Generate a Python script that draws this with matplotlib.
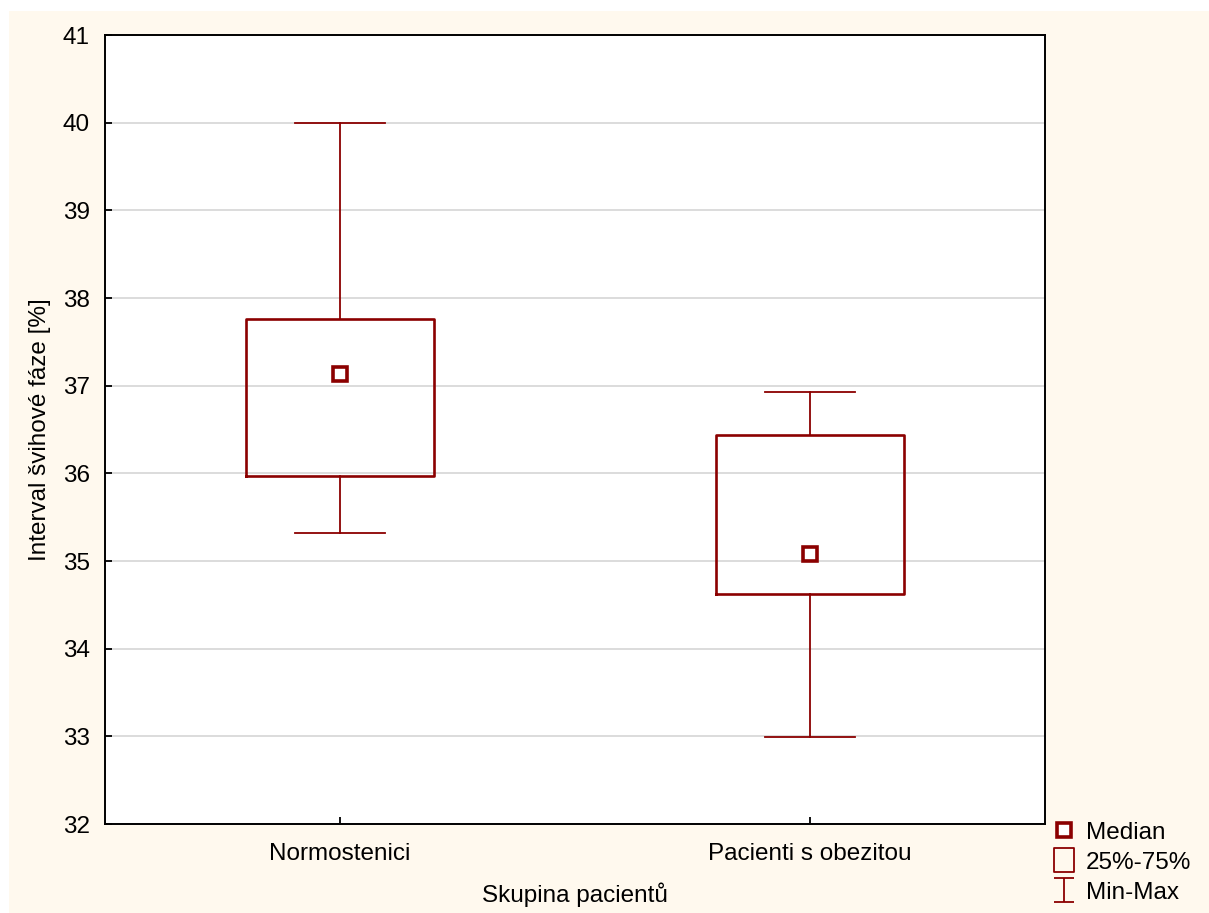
import numpy as np
import matplotlib
matplotlib.use("Agg")
import matplotlib.pyplot as plt
from matplotlib.lines import Line2D
from matplotlib.patches import Rectangle
from matplotlib.path import Path

plt.rcParams["font.family"] = ["Liberation Sans", "DejaVu Sans"]

GROUPS = ["Normostenici", "Pacienti s obezitou"]
MINS = [35.32, 32.99]
Q1S = [35.97, 34.62]
MEDIANS = [37.13, 35.08]
Q3S = [37.76, 36.44]
MAXS = [40.00, 36.93]

RED = "#8B0000"
CREAM = "#FFF9EE"
FS = 17.5

fig = plt.figure(figsize=(12.09, 9.13), dpi=100)
fig.patch.set_facecolor("white")
fig.patches.append(Rectangle((9 / 1209, 0), 1, (913 - 11) / 913, transform=fig.transFigure,
                             facecolor=CREAM, edgecolor="none", zorder=-10))

ax = fig.add_axes([105 / 1209, (913 - 824) / 913, 940 / 1209, 789 / 913])
ax.set_facecolor("white")

stats = [dict(med=m, q1=a, q3=b, whislo=lo, whishi=hi, fliers=[], label=g)
         for g, lo, a, m, b, hi in zip(GROUPS, MINS, Q1S, MEDIANS, Q3S, MAXS)]
x = np.arange(len(GROUPS))
ax.bxp(stats, positions=x, widths=0.4, capwidths=0.19, showfliers=False,
       boxprops=dict(color=RED, linewidth=1.9),
       whiskerprops=dict(color=RED, linewidth=1.3),
       capprops=dict(color=RED, linewidth=1.3),
       medianprops=dict(linewidth=0), zorder=3)
ax.plot(x, MEDIANS, "s", ms=10, mfc="white", mec=RED, mew=2.6, ls="none", zorder=4)

ax.set_xlim(-0.5, 1.5)
ax.set_ylim(32, 41)
ax.set_yticks(range(32, 42))
ax.set_xticks(x)
ax.set_xticklabels(GROUPS)
ax.grid(axis="y", color="#D9D9D9", linewidth=1.3, zorder=0)
ax.set_axisbelow(True)
ax.tick_params(direction="in", length=5, width=1.3, labelsize=FS, color="black")
ax.tick_params(axis="y", pad=11)
ax.tick_params(axis="x", pad=14)
for s in ax.spines.values():
    s.set_linewidth(1.4)

ax.set_xlabel("Skupina pacientů", fontsize=FS, labelpad=12)
ax.set_ylabel("Interval švihové fáze [%]", fontsize=FS, labelpad=8)

# legend
whisk = Path([(-0.43, 0.5), (0.43, 0.5), (0, 0.5), (0, -0.5), (-0.43, -0.5), (0.43, -0.5)],
             [Path.MOVETO, Path.LINETO, Path.MOVETO, Path.LINETO, Path.MOVETO, Path.LINETO])
rect = Path([(-0.41, -0.5), (0.41, -0.5), (0.41, 0.5), (-0.41, 0.5), (-0.41, -0.5)],
            [Path.MOVETO, Path.LINETO, Path.LINETO, Path.LINETO, Path.CLOSEPOLY])
handles = [
    Line2D([], [], marker="s", ms=10, mfc="white", mec=RED, mew=2.6, ls="none"),
    Line2D([], [], marker=rect, ms=17, mfc="none", mec=RED, mew=1.3, ls="none"),
    Line2D([], [], marker=whisk, ms=17, mfc="none", mec=RED, mew=1.3, ls="none"),
]
fig.legend(handles, ["Median", "25%-75%", "Min-Max"], loc="lower left",
           bbox_to_anchor=(1035 / 1209, -8 / 913), frameon=False, fontsize=FS,
           handlelength=1.0, handletextpad=0.4, labelspacing=0.33, borderpad=0.2)

fig.savefig("out.png", dpi=100, facecolor=fig.get_facecolor())
